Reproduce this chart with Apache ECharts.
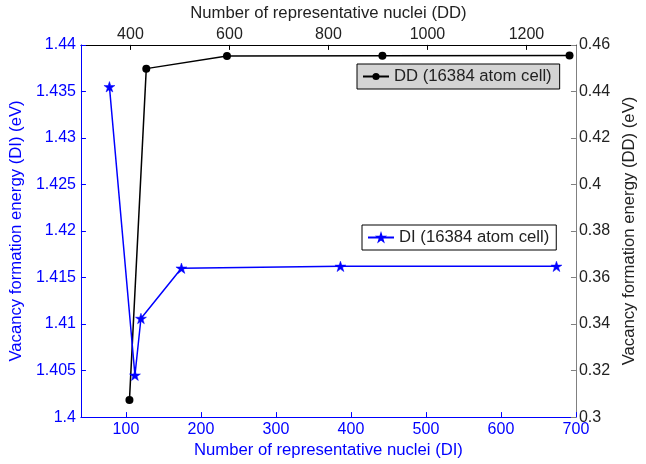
<!DOCTYPE html>
<html>
<head>
<meta charset="utf-8">
<script src="https://cdn.jsdelivr.net/npm/echarts@6/dist/echarts.min.js"></script>
<style>
html,body{margin:0;padding:0;background:#fff;}
#c{width:646px;height:464px;}
</style>
</head>
<body>
<div id="c"></div>
<script>
// DI series (bottom x-axis, left y-axis)
const diNuclei = [78, 112, 120, 174, 386, 674];
const diEnergy = [1.4355, 1.4045, 1.4106, 1.4160, 1.4162, 1.4162];
// DD series (top x-axis, right y-axis)
const ddNuclei = [398, 432, 595, 909, 1287];
const ddEnergy = [0.3073, 0.4498, 0.4552, 0.4553, 0.4554];
// tick labels
const bottomTicks = [100, 200, 300, 400, 500, 600, 700];
const topTicks = [400, 600, 800, 1000, 1200];
const seriesNames = ['DI (16384 atom cell)', 'DD (16384 atom cell)'];

const FONT = 'Liberation Sans, Arial, Helvetica, sans-serif';
const BLUE = '#0000ff';
const DARK = '#222222';
const STAR = 'path://M100 0 L122.45 69.1 L195.1 69.1 L136.33 111.8 L158.8 180.9 L100 138.2 L41.2 180.9 L63.67 111.8 L4.9 69.1 L77.55 69.1 Z';

const chart = echarts.init(document.getElementById('c'), null, {renderer: 'canvas'});
const fmt = v => String(parseFloat(Number(v).toFixed(4)));

chart.setOption({
  animation: false,
  backgroundColor: '#fff',
  textStyle: {fontFamily: FONT},
  grid: {left: 77.5, top: 38, width: 507.5, height: 384, containLabel: false, show: false},
  legend: [
    {
      data: [seriesNames[1]],
      left: 357, top: 64,
      backgroundColor: '#d4d4d4', borderColor: '#000', borderWidth: 1, borderRadius: 0,
      padding: [4, 8, 4, 5],
      itemWidth: 26, itemHeight: 9,
      textStyle: {fontSize: 16.7, color: DARK, fontFamily: FONT}
    },
    {
      data: [seriesNames[0]],
      left: 362, top: 225,
      backgroundColor: '#ffffff', borderColor: '#000', borderWidth: 1, borderRadius: 0,
      padding: [4, 7, 4, 5],
      itemWidth: 26, itemHeight: 8,
      textStyle: {fontSize: 16.7, color: DARK, fontFamily: FONT}
    }
  ],
  xAxis: [
    {
      type: 'value', position: 'bottom', min: 40, max: 700,
      name: 'Number of representative nuclei (DI)', nameLocation: 'middle', nameGap: 21,
      nameTextStyle: {color: BLUE, fontSize: 16.7, fontFamily: FONT},
      axisLine: {show: true, onZero: false, lineStyle: {color: BLUE, width: 1}},
      axisTick: {show: true, inside: true, length: 5, customValues: bottomTicks, lineStyle: {color: BLUE}},
      axisLabel: {customValues: bottomTicks, color: BLUE, fontSize: 16, margin: 4, formatter: fmt, fontFamily: FONT},
      splitLine: {show: false}
    },
    {
      type: 'value', position: 'top', min: 300, max: 1300,
      name: 'Number of representative nuclei (DD)', nameLocation: 'middle', nameGap: 17,
      nameTextStyle: {color: DARK, fontSize: 16.7, fontFamily: FONT},
      axisLine: {show: true, onZero: false, lineStyle: {color: '#000', width: 1}},
      axisTick: {show: true, inside: true, length: 5, customValues: topTicks, lineStyle: {color: '#000'}},
      axisLabel: {customValues: topTicks, color: DARK, fontSize: 16, margin: 2, formatter: fmt, fontFamily: FONT},
      splitLine: {show: false}
    }
  ],
  yAxis: [
    {
      type: 'value', position: 'left', min: 1.4, max: 1.44, interval: 0.005,
      name: 'Vacancy formation energy (DI) (eV)', nameLocation: 'middle', nameGap: 53,
      nameTextStyle: {color: BLUE, fontSize: 16.7, fontFamily: FONT},
      axisLine: {show: true, onZero: false, lineStyle: {color: BLUE, width: 1}},
      axisTick: {show: true, inside: true, length: 5, lineStyle: {color: BLUE}},
      axisLabel: {color: BLUE, fontSize: 16, margin: 5, formatter: fmt, fontFamily: FONT},
      splitLine: {show: false}
    },
    {
      type: 'value', position: 'right', min: 0.3, max: 0.46, interval: 0.02,
      name: 'Vacancy formation energy (DD) (eV)', nameLocation: 'middle', nameGap: 42,
      nameTextStyle: {color: DARK, fontSize: 16.7, fontFamily: FONT},
      axisLine: {show: true, onZero: false, lineStyle: {color: '#808080', width: 1}},
      axisTick: {show: true, inside: true, length: 5, lineStyle: {color: '#808080'}},
      axisLabel: {color: DARK, fontSize: 16, margin: 3, formatter: fmt, fontFamily: FONT},
      splitLine: {show: false}
    }
  ],
  series: [
    {
      name: seriesNames[1], type: 'line', xAxisIndex: 1, yAxisIndex: 1,
      data: ddNuclei.map((x, i) => [x, ddEnergy[i]]),
      symbol: 'circle', symbolSize: 8, showSymbol: true, showAllSymbol: true,
      lineStyle: {color: '#000', width: 1.5},
      itemStyle: {color: '#000'},
      z: 2
    },
    {
      name: seriesNames[0], type: 'line', xAxisIndex: 0, yAxisIndex: 0,
      data: diNuclei.map((x, i) => [x, diEnergy[i]]),
      symbol: STAR, symbolSize: 11, symbolKeepAspect: true, showSymbol: true, showAllSymbol: true,
      lineStyle: {color: BLUE, width: 1.5},
      itemStyle: {color: BLUE, borderColor: BLUE, borderWidth: 0.5},
      z: 3
    }
  ]
});
</script>
</body>
</html>
